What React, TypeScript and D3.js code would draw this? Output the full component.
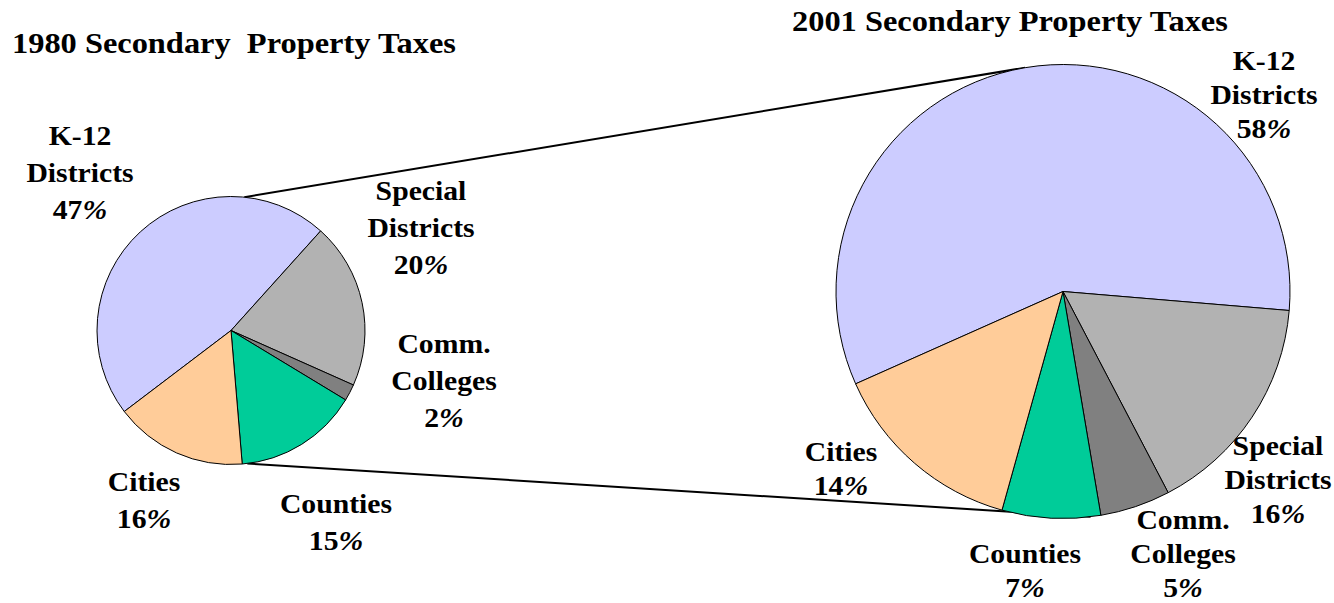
import React from "react";
import * as d3 from "d3";

// ---- data ----
const categories = ["K-12 Districts", "Special Districts", "Comm. Colleges", "Counties", "Cities"];
const labelLines = [["K-12", "Districts"], ["Special", "Districts"], ["Comm.", "Colleges"], ["Counties"], ["Cities"]];
const values1980 = [47, 20, 2, 15, 16];
const values2001 = [58, 16, 5, 7, 14];
const colors = ["#CCCCFF", "#B2B2B2", "#808080", "#00CC99", "#FFCC99"];
const titles = ["1980 Secondary  Property Taxes", "2001 Secondary Property Taxes"];

// ---- layout ----
const W = 1334, H = 603;
const FONT = "Liberation Serif";
const pies = [
  { cx: 231, cy: 330.5, r: 134, start: -127.2, values: values1980, lineH: 37,
    title: { x: 12, y: 53 },
    labels: [[-151, -185.5], [190, -130.5], [213, 22.5], [105, 182.5], [-87, 160.5]] },
  { cx: 1063, cy: 291.5, r: 227, start: -114, values: values2001, lineH: 34,
    title: { x: 792, y: 31 },
    labels: [[201, -221.5], [215, 164], [120, 238], [-38, 271.5], [-222, 170]] },
];
const toRad = (d: number) => (d * Math.PI) / 180;
// connector angles (degrees clockwise from top) on [left pie, right pie]
const connectors = [[5.7, -9.6], [173, 173]];

function polar(p: any, deg: number) {
  const a = toRad(deg);
  return [p.cx + p.r * Math.sin(a), p.cy - p.r * Math.cos(a)];
}

function Pie({ p, idx }: { p: any; idx: number }) {
  const s = toRad(p.start);
  const arcs = d3.pie<number>().sort(null).value((d) => d).startAngle(s).endAngle(s + 2 * Math.PI)(p.values);
  const arc = d3.arc<any>().innerRadius(0).outerRadius(p.r);
  return (
    <g>
      <g transform={`translate(${p.cx},${p.cy})`}>
        {arcs.map((a, i) => (
          <path key={i} d={arc(a) || ""} fill={colors[i]} stroke="#000" strokeWidth={1} />
        ))}
      </g>
      <text x={p.title.x} y={p.title.y} style={{ fontFamily: FONT, fontWeight: 700, fontSize: 30, whiteSpace: "pre" }}
        transform={`translate(${p.title.x},0) scale(1.08,1) translate(${-p.title.x},0)`}>
        {titles[idx]}
      </text>
      {arcs.map((a, i) => {
        const [dx, dy] = p.labels[i];
        const x = p.cx + dx, y0 = p.cy + dy;
        const lines = labelLines[i];
        return (
          <text key={"l" + i} style={{ fontFamily: FONT, fontWeight: 700, fontSize: 27 }} textAnchor="middle"
            transform={`translate(${x},0) scale(1.1,1) translate(${-x},0)`}>
            {lines.map((t, j) => (
              <tspan key={j} x={x} y={y0 + j * p.lineH}>{t}</tspan>
            ))}
            <tspan x={x} y={y0 + lines.length * p.lineH}>
              {p.values[i]}
              <tspan style={{ fontStyle: "italic" }}>%</tspan>
            </tspan>
          </text>
        );
      })}
    </g>
  );
}

export default function App() {
  return (
    <svg width={W} height={H} style={{ position: "absolute", left: 0, top: 0, background: "#fff" }}>
      <rect width={W} height={H} fill="#fff" />
      {connectors.map(([a0, a1], i) => {
        const [x1, y1] = polar(pies[0], a0);
        const [x2, y2] = polar(pies[1], a1);
        return <line key={i} x1={x1} y1={y1} x2={x2} y2={y2} stroke="#000" strokeWidth={2} />;
      })}
      {pies.map((p, i) => <Pie key={i} p={p} idx={i} />)}
    </svg>
  );
}
